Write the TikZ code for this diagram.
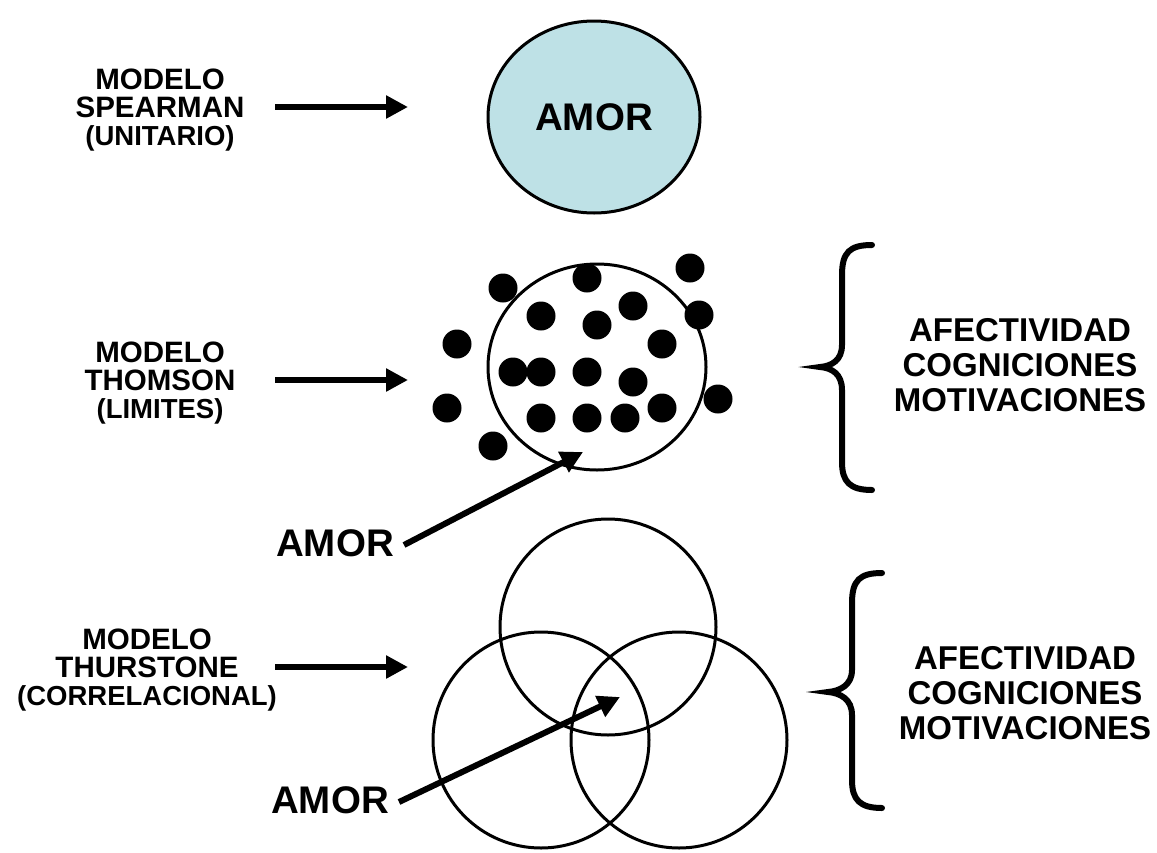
\documentclass[tikz,border=0pt]{standalone}
\usepackage{fontspec}
\setmainfont{Liberation Sans}
\usetikzlibrary{arrows.meta,shapes.geometric}
\definecolor{amorblue}{RGB}{190,225,230}
\newcommand{\parenfont}{\fontsize{27.5}{28}\selectfont}
\begin{document}
\begin{tikzpicture}[x=1pt,y=-1pt,
  lbl/.style={font=\fontsize{29.5}{28}\selectfont\bfseries, align=center, inner sep=0},
  big/.style={font=\fontsize{38.5}{40}\selectfont\bfseries, inner sep=0},
  side/.style={font=\fontsize{33}{35}\selectfont\bfseries, align=center, inner sep=0},
  arr/.style={line width=6pt, -{Triangle[length=22pt,width=22pt]}},
  ring/.style={draw, line width=3pt, ellipse, inner sep=0},
  dot/.style={fill=black},
  brace/.style={line width=6pt, line cap=round}]
\useasboundingbox (0,0) rectangle (1157,852);
% --- Spearman ---
\node[lbl] (spl) at (160,110) {MODELO\\SPEARMAN\\{\parenfont (UNITARIO)}};
\node[ring, fill=amorblue, minimum width=212pt, minimum height=192pt, big] (spear) at (594,117) {AMOR};
\coordinate (s1a) at (275,107);
\coordinate (s1b) at (408,107);
\draw[arr] (s1a) -- (s1b);
% --- Thomson ---
\node[lbl] (thl) at (160,383) {MODELO\\THOMSON\\{\parenfont (LIMITES)}};
\coordinate (s2a) at (275,380);
\coordinate (s2b) at (408,380);
\draw[arr] (s2a) -- (s2b);
\node[ring, minimum width=218pt, minimum height=206pt] (thom) at (597,367) {};
\foreach \p in {(503,288),(587,278),(690,268),(541,316),(597,325),(633,306),(699,315),
  (457,344),(662,344),(513,372),(541,372),(587,372),(633,382),(447,408),(541,418),
  (587,418),(625,418),(662,408),(718,399),(493,446)}
  \fill[dot] \p circle (14.5);
\node[big] (amor2) at (335,543) {AMOR};
\coordinate (t2) at (583,452);
\draw[arr] ([xshift=10pt,yshift=-2pt]amor2.east) -- (t2);
\draw[brace] (872,245) .. controls (850,245) and (842,252) .. (842,275) -- (842,345)
  .. controls (842,360) and (832,366) .. (820,367) .. controls (832,368) and (842,374) .. (842,390)
  -- (842,462) .. controls (842,482) and (850,490) .. (872,490);
\node[side] (aff1) at (1020,365) {AFECTIVIDAD\\COGNICIONES\\MOTIVACIONES};
% --- Thurstone ---
\node[lbl] (tul) at (147,670) {MODELO\\THURSTONE\\{\parenfont (CORRELACIONAL)}};
\coordinate (s3a) at (275,667);
\coordinate (s3b) at (408,667);
\draw[arr] (s3a) -- (s3b);
\node[ring, minimum size=216pt] (ctop) at (608,627) {};
\node[ring, minimum size=216pt] (cleft) at (541,740) {};
\node[ring, minimum size=216pt] (cright) at (679,740) {};
\node[big] (amor3) at (330,800) {AMOR};
\coordinate (t3) at (620,697);
\draw[arr] ([xshift=10pt,yshift=-2pt]amor3.east) -- (t3);
\draw[brace] (882,573) .. controls (860,573) and (852,580) .. (852,603) -- (852,670)
  .. controls (852,685) and (840,691) .. (828,692) .. controls (840,693) and (852,699) .. (852,715)
  -- (852,780) .. controls (852,800) and (860,808) .. (882,808);
\node[side] (aff2) at (1025,693) {AFECTIVIDAD\\COGNICIONES\\MOTIVACIONES};
\end{tikzpicture}
\end{document}
